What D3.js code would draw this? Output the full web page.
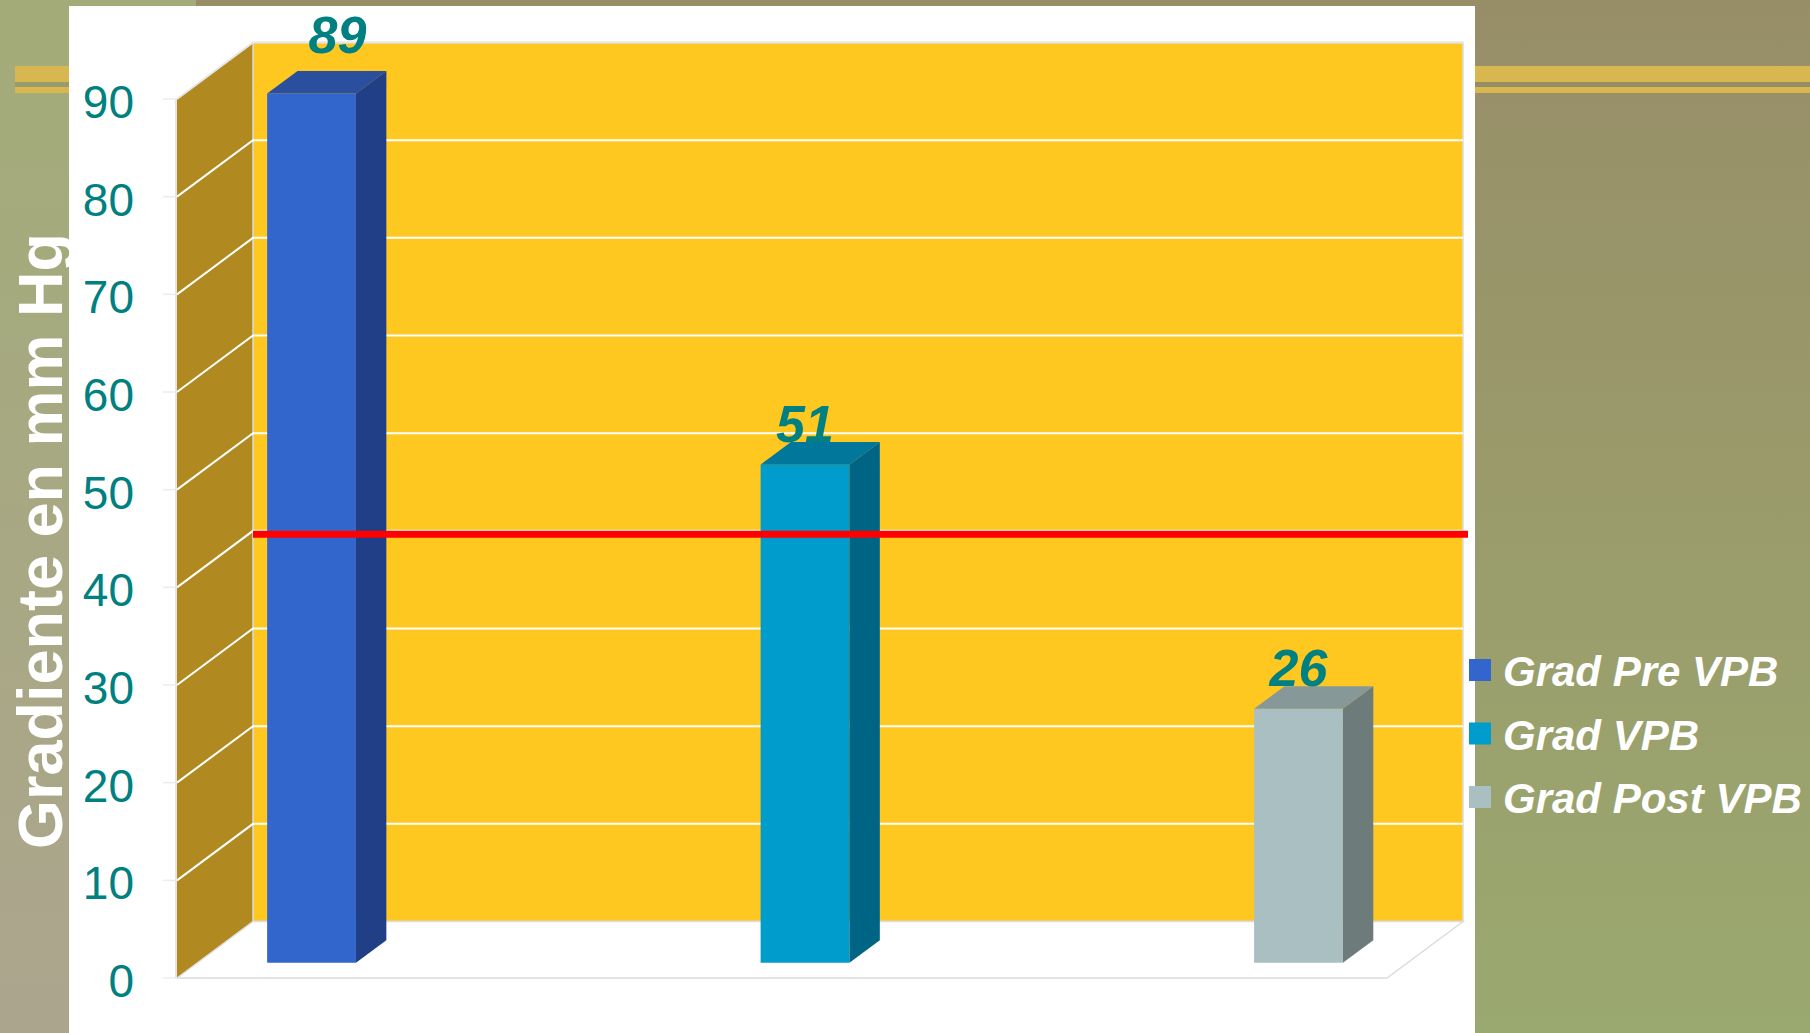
<!DOCTYPE html>
<html>
<head>
<meta charset="utf-8">
<script src="https://cdn.jsdelivr.net/npm/d3@7"></script>
<style>
html,body{margin:0;padding:0;background:#fff;}
svg{display:block;}
</style>
</head>
<body>
<script>
// ---- data ----
const categories = ["Grad Pre VPB", "Grad VPB", "Grad Post VPB"];
const values = [89, 51, 26];
const yTicks = [0, 10, 20, 30, 40, 50, 60, 70, 80, 90];
const thresholdValue = 40;
const yTitle = "Gradiente en mm Hg";

// ---- styles ----
const frontColors = ["#3366cc", "#009ccc", "#aabfc1"];
const topColors = ["#2a4f9f", "#00779b", "#879899"];
const sideColors = ["#213f86", "#006584", "#6e7b7b"];
const teal = "#008080";
// manual label nudges (labels were dragged in the original)
const labelNudge = [{dx: 26, dy: -18}, {dx: 0, dy: 0}, {dx: 0, dy: 0}];

const W = 1810, H = 1033;
const svg = d3.select("body").append("svg").attr("width", W).attr("height", H);
const defs = svg.append("defs");
const gL = defs.append("linearGradient").attr("id", "gl").attr("x1", 0).attr("y1", 0).attr("x2", 0).attr("y2", 1);
gL.append("stop").attr("offset", 0).attr("stop-color", "#a3ac78");
gL.append("stop").attr("offset", 1).attr("stop-color", "#aca58e");
const gR = defs.append("linearGradient").attr("id", "gr").attr("x1", 0).attr("y1", 0).attr("x2", 0).attr("y2", 1);
gR.append("stop").attr("offset", 0).attr("stop-color", "#978e68");
gR.append("stop").attr("offset", 0.45).attr("stop-color", "#9a9a6b");
gR.append("stop").attr("offset", 1).attr("stop-color", "#9aa96f");

// background
svg.append("rect").attr("x", 0).attr("y", 0).attr("width", W).attr("height", H).attr("fill", "url(#gr)");
svg.append("rect").attr("x", 0).attr("y", 0).attr("width", 196).attr("height", H).attr("fill", "url(#gl)");
// decorative bands
[[66, 16], [87, 6]].forEach(([yy, hh]) => {
  svg.append("rect").attr("x", 15).attr("y", yy).attr("width", W - 15).attr("height", hh).attr("fill", "#d8b750");
});
svg.append("rect").attr("x", 15).attr("y", 82).attr("width", W - 15).attr("height", 5).attr("fill", "#8f8c5f").attr("opacity", 0.5);

// y title
svg.append("text")
  .attr("transform", "translate(62,541) rotate(-90)")
  .attr("text-anchor", "middle")
  .attr("font-family", "Liberation Sans, Arial, sans-serif")
  .attr("font-weight", "bold")
  .attr("font-size", 63)
  .attr("fill", "#ffffff")
  .text(yTitle);

// white panel
svg.append("rect").attr("x", 69).attr("y", 6).attr("width", 1475 - 69).attr("height", H - 6).attr("fill", "#ffffff");

// ---- scales ----
const x0 = 177, x1 = 1387;
const DX = 76, DY = 56.5;
const y = d3.scaleLinear().domain([0, 90]).range([978, 99]);
const x = d3.scaleBand().domain(categories).range([x0 + 2.5, x1 + 2.5]).paddingInner(0.82).paddingOuter(0.136);
const P = (xx, v, f) => [xx + f * DX, y(v) - f * DY];
const poly = pts => "M" + pts.map(p => p.join(",")).join("L") + "Z";

const g = svg.append("g");
// side wall
g.append("path").attr("d", poly([P(x0, 0, 0), P(x0, 90, 0), P(x0, 90, 1), P(x0, 0, 1)]))
  .attr("fill", "#b08a20");
// back wall
g.append("path").attr("d", poly([P(x0, 0, 1), P(x0, 90, 1), P(x1, 90, 1), P(x1, 0, 1)]))
  .attr("fill", "#fec820").attr("stroke", "#dcdcdc").attr("stroke-width", 1.5);
// floor
g.append("path").attr("d", poly([P(x0, 0, 0), P(x0, 0, 1), P(x1, 0, 1), P(x1, 0, 0)]))
  .attr("fill", "#ffffff").attr("stroke", "#dcdcdc").attr("stroke-width", 1.5);
// gridlines
yTicks.filter(v => v > 0).forEach(v => {
  const a = P(x0, v, 0), b = P(x0, v, 1), c = P(x1, v, 1);
  g.append("path").attr("d", `M${a}L${b}L${c}`).attr("fill", "none")
    .attr("stroke", v === 90 ? "#e6e6e6" : "#ffffff").attr("stroke-width", 2);
});
// axis line and ticks
g.append("line").attr("x1", x0 - 1).attr("x2", x0 - 1).attr("y1", y(0)).attr("y2", y(90))
  .attr("stroke", "#dddddd").attr("stroke-width", 1.5);
yTicks.forEach(v => {
  g.append("line").attr("x1", x0 - 14).attr("x2", x0).attr("y1", y(v)).attr("y2", y(v))
    .attr("stroke", "#ececec").attr("stroke-width", 1.5);
  g.append("text").attr("x", 134).attr("y", y(v) + 19)
    .attr("text-anchor", "end")
    .attr("font-family", "Liberation Sans, Arial, sans-serif")
    .attr("font-size", 46).attr("fill", teal).text(v);
});

// bars
const f0 = 0.27, f1 = 0.67;
const bw = x.bandwidth();
categories.forEach((c, i) => {
  const v = values[i], xl = x(c), xr = xl + bw;
  const bg = g.append("g");
  bg.append("path").attr("d", poly([P(xl, 0, f0), P(xl, v, f0), P(xr, v, f0), P(xr, 0, f0)])).attr("fill", frontColors[i]);
  bg.append("path").attr("d", poly([P(xl, v, f0), P(xr, v, f0), P(xr, v, f1), P(xl, v, f1)])).attr("fill", topColors[i]);
  bg.append("path").attr("d", poly([P(xr, v, f0), P(xr, v, f1), P(xr, 0, f1), P(xr, 0, f0)])).attr("fill", sideColors[i]);
});

// threshold line
g.append("line")
  .attr("x1", P(x0, 0, 1)[0]).attr("x2", P(x1, 0, 1)[0] + 5)
  .attr("y1", y(thresholdValue) - DY + 3.5).attr("y2", y(thresholdValue) - DY + 3.5)
  .attr("stroke", "#ff0000").attr("stroke-width", 7);

// data labels
categories.forEach((c, i) => {
  const v = values[i];
  const top = P(x(c) + bw / 2, v, f0);
  g.append("text")
    .attr("x", top[0] + labelNudge[i].dx).attr("y", top[1] - 23 + labelNudge[i].dy)
    .attr("text-anchor", "middle")
    .attr("font-family", "Liberation Sans, Arial, sans-serif")
    .attr("font-weight", "bold").attr("font-style", "italic")
    .attr("font-size", 52).attr("fill", teal).text(v);
});

// legend
const leg = svg.append("g");
categories.forEach((c, i) => {
  const yy = 659 + i * 63.5;
  leg.append("rect").attr("x", 1469).attr("y", yy).attr("width", 22).attr("height", 22).attr("fill", frontColors[i]);
  leg.append("text").attr("x", 1503).attr("y", yy + 27)
    .attr("font-family", "Liberation Sans, Arial, sans-serif")
    .attr("font-weight", "bold").attr("font-style", "italic")
    .attr("font-size", 42).attr("fill", "#ffffff").text(c);
});
</script>
</body>
</html>
